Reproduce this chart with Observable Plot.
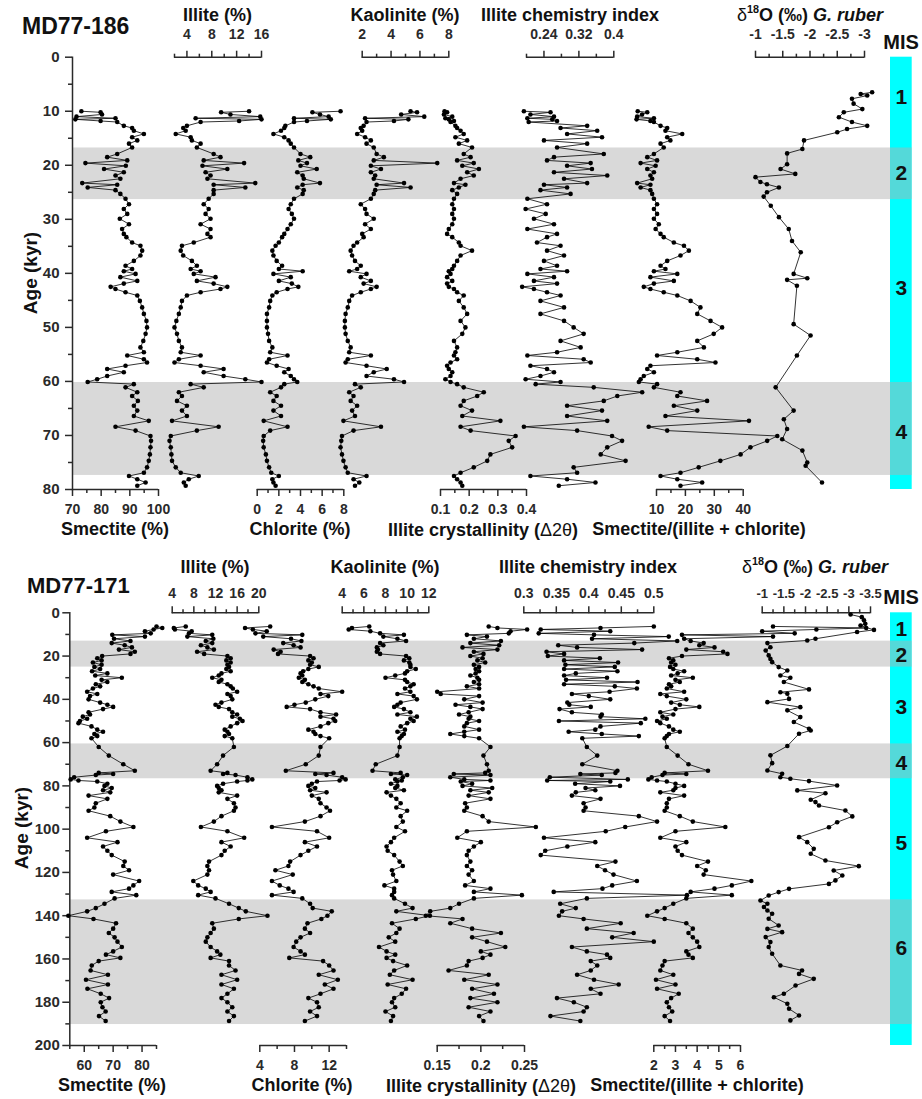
<!DOCTYPE html>
<html>
<head>
<meta charset="utf-8">
<script src="https://cdn.jsdelivr.net/npm/d3@7"></script>
<script src="https://cdn.jsdelivr.net/npm/@observablehq/plot@0.6"></script>
<style>
html, body { margin: 0; padding: 0; background: #fff; }
#fig { position: relative; width: 922px; height: 1099px; overflow: hidden; font-family: "Liberation Sans", Arial, Helvetica, sans-serif; }
.layer { position: absolute; left: 0; }
.t { position: absolute; font-weight: bold; white-space: nowrap; line-height: 1; color: #111; transform: translate(-50%, -50%); }
.t.left { transform: translate(0, -50%); }
.t.rot { transform: translate(-50%, -50%) rotate(-90deg); }
.t .n { font-weight: normal; }
.t sup { font-size: 0.6em; position: relative; top: -0.1em; vertical-align: super; line-height: 0; }
</style>
</head>
<body>
<div id="fig"></div>
<script>
// ---------------- MD77-186 (clay samples) ----------------
const ageClay186 = [
  10.0,10.2,10.6,11.0,11.3,11.5,11.8,12.0,
  12.7,13.1,13.6,14.2,14.8,15.4,16.0,16.7,
  17.9,18.5,19.1,19.6,20.1,20.7,21.3,21.9,
  22.5,23.3,23.6,24.1,24.6,25.3,26.2,27.2,
  28.1,29.0,29.9,30.9,31.8,32.7,33.3,34.3,
  34.9,35.8,36.7,37.7,38.6,39.2,39.6,40.1,
  40.7,41.4,41.9,42.5,42.9,43.5,44.1,45.1,
  46.3,47.5,48.8,50.0,51.2,52.5,53.7,54.6,
  55.2,55.9,56.5,57.1,57.7,58.3,59.0,59.6,
  60.1,60.5,61.1,62.0,62.7,63.6,64.5,65.4,
  66.4,67.3,68.4,69.1,70.1,71.0,72.2,73.5,
  74.7,75.9,76.9,77.5,78.1,78.7,79.3
];
const smectite186 = [
  73.1,79.8,80.3,71.4,85.0,71.0,79.8,85.6,
  87.9,90.8,91.4,94.9,90.8,92.6,89.7,90.8,
  85.6,82.1,89.1,74.5,88.6,81.0,87.9,85.0,
  86.7,73.4,85.6,75.3,85.0,86.7,88.5,89.7,
  87.9,89.1,86.5,89.7,87.3,87.9,88.8,90.8,
  93.7,94.3,93.7,91.4,88.5,90.8,87.9,92.0,
  86.7,92.6,87.9,83.3,85.0,88.5,92.6,93.5,
  94.3,94.9,95.8,96.0,95.5,94.7,93.7,94.9,
  89.1,94.9,96.0,88.5,82.1,87.9,82.1,78.6,
  75.3,91.4,88.5,92.6,90.8,92.8,91.4,92.6,
  91.4,96.6,85.0,92.0,97.2,97.4,97.2,97.0,
  96.6,96.0,94.9,89.7,92.6,95.5,92.6
];
const illite186 = [
  14.0,9.5,11.0,15.8,5.4,16.0,12.4,6.2,
  4.0,3.4,3.8,2.2,4.6,4.8,6.2,5.6,
  8.3,9.4,6.7,13.2,6.5,10.5,7.0,7.8,
  7.3,15.0,8.3,13.4,8.3,8.3,7.5,6.7,
  7.5,7.0,7.8,6.2,7.8,7.3,7.8,5.1,
  3.2,3.0,3.4,4.8,5.6,4.6,6.2,5.1,
  8.6,5.6,8.3,10.5,9.4,6.2,4.0,3.2,
  3.0,2.7,2.3,2.0,2.4,2.7,3.2,3.0,
  6.2,2.7,2.0,6.2,9.9,6.7,9.9,13.4,
  16.0,4.6,6.7,2.7,3.2,2.4,4.0,3.2,
  4.0,1.6,9.1,5.6,1.4,1.2,1.4,1.5,
  1.6,2.2,3.0,5.9,4.3,3.5,3.8
];
const chlorite186 = [
  7.7,5.1,5.8,6.6,3.4,6.8,4.6,3.4,
  2.6,2.5,2.2,1.5,2.5,2.9,3.1,3.4,
  4.0,4.9,3.8,4.6,4.0,5.5,3.7,4.2,
  4.3,5.8,4.2,3.7,4.3,4.2,3.4,3.1,
  2.9,3.2,3.4,3.1,2.8,2.5,2.3,2.0,
  1.7,1.4,1.5,1.8,2.3,2.0,4.2,1.5,
  3.1,2.0,3.2,3.8,2.8,1.8,1.4,1.2,
  1.1,0.9,0.9,0.9,1.0,1.1,1.4,1.2,
  2.8,1.1,0.9,1.8,2.9,2.5,3.1,3.4,
  3.7,2.5,2.2,1.2,1.8,1.5,2.2,1.5,
  2.2,0.6,2.8,1.2,0.6,0.55,0.6,0.8,
  0.9,1.1,1.3,2.0,1.4,1.5,1.7
];
const kaolinite186 = [
  5.35,5.8,4.7,6.3,2.2,5.2,4.2,2.3,
  2.1,1.9,2.0,1.65,2.2,2.6,2.3,2.8,
  3.0,3.5,2.8,7.2,2.6,3.3,2.6,2.9,
  2.8,4.9,3.0,5.35,2.9,2.8,2.6,1.9,
  2.2,2.3,2.8,2.2,2.6,2.0,2.1,1.65,
  1.4,1.2,1.3,1.5,1.9,1.65,1.1,2.3,
  1.9,2.6,2.1,3.0,2.6,1.9,1.3,1.1,
  1.0,0.85,0.8,0.8,0.85,1.0,1.2,1.1,
  2.6,1.0,0.85,2.3,3.7,2.8,2.3,4.2,
  4.9,1.5,1.9,1.1,1.4,1.2,1.65,1.3,
  1.5,0.7,3.3,1.4,0.6,0.55,0.5,0.6,
  0.7,0.85,1.0,2.3,1.4,1.8,1.5
];
const crystallinity186 = [
  0.114,0.123,0.112,0.141,0.117,0.129,0.147,0.135,
  0.152,0.158,0.170,0.181,0.152,0.193,0.164,0.210,
  0.181,0.205,0.158,0.216,0.176,0.234,0.193,0.216,
  0.170,0.147,0.187,0.164,0.141,0.158,0.147,0.141,
  0.147,0.141,0.147,0.141,0.129,0.123,0.141,0.164,
  0.170,0.210,0.170,0.158,0.147,0.141,0.129,0.135,
  0.123,0.141,0.123,0.129,0.147,0.158,0.181,0.164,
  0.181,0.193,0.170,0.187,0.176,0.147,0.158,0.152,
  0.147,0.158,0.135,0.123,0.129,0.141,0.135,0.117,
  0.135,0.158,0.181,0.251,0.228,0.181,0.170,0.210,
  0.176,0.309,0.170,0.205,0.362,0.338,0.350,0.274,
  0.263,0.216,0.170,0.147,0.158,0.170,0.176
];
const chemistry186 = [
  0.194,0.255,0.209,0.263,0.202,0.259,0.270,0.205,
  0.339,0.278,0.362,0.293,0.373,0.240,0.339,0.270,
  0.377,0.263,0.247,0.347,0.293,0.350,0.263,0.385,
  0.286,0.339,0.240,0.293,0.232,0.301,0.202,0.247,
  0.198,0.244,0.217,0.263,0.202,0.270,0.247,0.224,
  0.278,0.247,0.286,0.240,0.270,0.232,0.293,0.202,
  0.263,0.217,0.270,0.190,0.217,0.247,0.278,0.232,
  0.286,0.232,0.286,0.308,0.331,0.278,0.324,0.270,
  0.202,0.331,0.347,0.209,0.247,0.263,0.232,0.198,
  0.278,0.221,0.354,0.465,0.408,0.377,0.293,0.373,
  0.293,0.385,0.194,0.316,0.396,0.419,0.385,0.370,
  0.427,0.308,0.316,0.209,0.293,0.358,0.274
];
const ratio186 = [
  3.5,6.8,5.0,3.3,9.1,3.1,7.9,9.1,
  11.4,13.7,13.1,18.9,13.7,14.8,11.4,12.5,
  9.1,6.8,10.2,4.5,9.7,6.8,9.1,7.9,
  8.5,3.3,7.9,4.5,7.9,8.5,9.1,10.2,
  9.1,10.2,9.1,10.8,9.7,11.4,12.5,16.0,
  19.5,21.2,18.3,13.7,11.4,13.1,9.1,17.2,
  7.9,16.0,9.1,5.6,7.9,12.5,17.2,21.8,
  25.2,24.1,28.7,32.7,29.8,24.1,26.4,17.2,
  10.2,24.1,30.4,7.9,6.8,9.1,5.6,4.5,
  3.9,10.2,9.1,18.3,17.2,27.5,16.0,24.1,
  13.1,42.0,7.3,13.7,51.8,48.3,42.5,39.1,
  32.1,24.6,18.3,11.4,17.2,25.8,18.3
];
// MD77-186 oxygen isotopes
const ageO186 = [
  6.5,6.8,7.1,7.7,8.6,9.6,10.2,11.1,
  12.0,12.7,13.3,13.9,15.4,17.0,17.8,19.8,
  20.7,21.6,22.2,23.1,23.5,24.1,25.0,25.8,
  27.5,29.6,31.8,34.0,36.1,40.1,40.9,41.2,
  42.3,49.4,51.5,55.2,61.1,65.4,67.0,68.8,
  70.7,72.8,75.0,75.6,78.7
];
const d18O186 = [
  -3.14,-2.93,-3.05,-2.77,-2.80,-2.96,-2.62,-2.53,
  -2.77,-3.05,-2.68,-2.50,-1.89,-1.86,-1.58,-1.58,
  -1.46,-1.73,-1.00,-1.09,-1.21,-1.43,-1.21,-1.15,
  -1.28,-1.43,-1.61,-1.67,-1.83,-1.70,-1.95,-1.58,
  -1.76,-1.70,-2.01,-1.76,-1.37,-1.70,-1.52,-1.58,
  -1.49,-1.86,-1.95,-1.92,-2.22
];
const bands186 = [[16.8, 26.35], [60.2, 77.4]];
const mis186 = [["1", 7.4], ["2", 21.5], ["3", 42.8], ["4", 69.5]];

// ---------------- MD77-171 (clay samples) ----------------
const ageClay171 = [
  6.3,7.0,7.7,8.5,9.5,10.2,11.0,12.0,
  13.0,14.0,15.0,16.0,17.0,18.0,19.0,20.0,
  21.0,22.0,23.0,24.0,25.0,26.0,27.0,28.0,
  29.0,30.0,31.0,32.0,33.0,34.0,35.0,36.5,
  37.5,38.5,40.0,41.5,42.5,43.5,44.5,46.0,
  47.0,48.0,49.0,50.0,51.0,52.5,54.0,55.0,
  56.0,57.0,58.0,62.0,66.0,70.0,73.0,74.0,
  74.5,75.0,76.0,77.0,77.5,78.0,79.0,80.0,
  81.0,82.0,83.0,84.5,86.0,88.0,90.0,91.5,
  94.0,96.5,99.0,101.0,104.0,106.0,108.0,110.0,
  112.0,115.0,117.0,119.0,121.0,124.0,126.0,127.5,
  129.0,130.5,132.0,134.5,136.5,138.0,140.0,141.5,
  143.5,146.0,148.0,150.0,152.0,154.5,156.5,158.0,
  159.5,161.0,163.0,165.3,167.3,169.6,171.8,173.8,
  176.1,178.1,180.0,182.3,184.3,186.4,188.7
];
const smectite171 = [
  85.0,87.0,84.0,81.0,83.0,69.7,81.0,70.3,
  76.0,69.5,74.0,76.5,72.0,77.5,76.0,66.2,
  64.5,66.0,63.0,66.0,63.5,65.5,62.7,68.0,
  63.8,73.0,66.0,68.0,64.0,65.5,63.0,61.0,
  64.5,62.0,61.5,65.5,68.0,70.0,66.5,61.5,
  62.0,59.5,61.0,58.5,58.0,62.5,64.5,66.5,
  63.5,64.5,62.5,65.0,68.5,73.5,77.5,65.0,
  70.0,64.0,56.5,55.3,58.0,64.5,68.0,67.0,
  69.5,66.5,69.0,61.5,68.0,64.0,63.5,61.5,
  69.0,72.5,77.0,67.5,61.0,71.5,66.5,68.0,
  69.5,74.0,73.5,75.5,70.0,79.0,77.0,75.5,
  69.5,78.0,70.5,67.0,64.0,61.0,54.5,63.2,
  71.0,70.0,68.5,70.5,71.5,73.0,70.0,67.5,
  72.5,65.0,62.6,62.2,68.2,60.6,68.2,61.1,
  65.7,68.6,65.7,66.3,67.4,65.1,67.4
];
const illite171 = [
  6.5,4.3,4.5,7.6,7.1,11.4,6.8,11.6,
  10.2,11.4,9.3,10.5,11.7,8.6,9.9,14.2,
  14.8,14.0,14.8,14.2,14.5,14.0,14.8,13.1,
  12.6,11.4,13.1,12.6,14.2,14.8,15.2,16.0,
  14.2,14.8,15.1,13.1,12.0,12.6,14.5,15.1,
  16.0,15.1,16.5,17.0,16.0,14.8,13.7,14.2,
  14.5,13.7,15.1,15.4,13.4,12.3,11.1,14.2,
  13.4,15.7,17.9,18.8,17.9,16.0,13.4,12.3,
  12.6,13.1,12.6,16.0,14.2,15.4,15.7,15.4,
  13.1,11.7,9.3,14.2,17.3,13.1,14.8,13.7,
  13.1,10.8,10.5,10.8,10.5,7.9,8.8,10.2,
  11.1,8.8,12.0,14.5,16.3,17.6,21.6,16.3,
  11.4,11.7,11.1,10.5,10.2,11.1,12.3,12.9,
  11.1,14.5,14.5,15.7,13.1,16.0,13.1,15.4,
  14.2,13.1,14.2,15.1,14.2,15.4,14.5
];
const chlorite171 = [
  5.2,2.3,3.2,4.8,3.5,8.9,4.4,7.6,
  8.8,6.7,7.9,8.7,5.6,6.4,6.1,9.8,
  10.2,9.6,10.0,9.8,10.8,9.6,9.0,8.7,
  8.9,8.5,9.2,8.9,9.6,10.2,10.8,13.5,
  11.0,11.9,10.4,9.3,8.0,7.1,9.8,11.0,
  12.8,11.0,12.5,12.7,11.9,11.0,9.6,10.2,
  10.4,11.0,12.0,11.0,10.8,9.3,7.0,12.5,
  10.4,11.7,13.5,13.9,13.2,10.6,10.0,9.6,
  10.4,9.8,11.7,10.0,10.8,11.0,11.7,12.1,
  11.0,9.2,5.4,10.6,12.0,9.2,10.6,9.6,
  8.7,7.5,7.3,5.8,7.8,5.4,6.3,7.3,
  7.9,5.4,8.9,9.8,10.1,12.3,11.8,11.1,
  9.5,9.2,9.8,8.7,8.2,7.9,8.7,9.2,
  7.4,11.3,12.0,12.5,10.8,13.0,11.5,12.5,
  11.0,9.6,10.6,10.8,9.8,10.6,9.2
];
const kaolinite171 = [
  6.5,4.9,4.6,6.6,7.5,9.7,7.8,9.1,
  9.9,7.5,7.8,7.2,7.3,7.2,7.5,9.9,
  10.2,9.7,10.2,10.3,10.3,10.8,10.0,9.8,
  8.9,8.0,9.8,10.0,10.6,10.3,9.8,10.3,
  9.1,10.6,10.9,9.4,9.1,8.8,9.7,10.3,
  9.1,10.9,10.3,10.6,10.0,9.4,9.8,9.1,
  9.7,9.5,9.3,9.3,9.1,7.1,6.8,9.4,
  8.5,10.0,9.6,8.9,9.5,9.1,8.5,9.1,
  8.9,9.7,8.1,8.5,9.0,9.4,9.0,10.0,
  9.4,9.6,9.0,9.8,8.8,8.5,8.1,8.2,
  8.8,9.3,9.6,8.6,8.7,9.0,7.9,8.8,
  8.8,8.6,8.8,9.8,10.5,9.0,12.1,10.8,
  8.6,9.3,9.0,8.3,8.9,7.4,8.1,8.9,
  8.1,8.7,10.0,8.8,8.4,10.5,8.2,9.9,
  9.5,8.8,8.6,8.9,8.0,8.7,8.5
];
const crystallinity171 = [
  0.209,0.219,0.253,0.234,0.232,0.184,0.207,0.192,
  0.223,0.188,0.221,0.179,0.219,0.192,0.203,0.188,
  0.202,0.196,0.205,0.192,0.198,0.194,0.198,0.194,
  0.188,0.196,0.198,0.192,0.198,0.184,0.198,0.150,
  0.154,0.198,0.181,0.202,0.171,0.188,0.202,0.186,
  0.175,0.188,0.186,0.198,0.184,0.181,0.198,0.181,
  0.165,0.181,0.198,0.211,0.203,0.207,0.209,0.205,
  0.169,0.211,0.165,0.181,0.211,0.177,0.190,0.179,
  0.213,0.188,0.209,0.186,0.211,0.182,0.184,0.181,
  0.202,0.209,0.263,0.184,0.173,0.200,0.192,0.186,
  0.184,0.188,0.184,0.190,0.186,0.192,0.182,0.211,
  0.192,0.247,0.192,0.175,0.165,0.142,0.137,0.179,
  0.165,0.190,0.223,0.190,0.207,0.228,0.200,0.211,
  0.202,0.186,0.184,0.163,0.209,0.181,0.219,0.190,
  0.215,0.188,0.219,0.186,0.211,0.198,0.203
];
const chemistry171 = [
  0.500,0.418,0.326,0.433,0.323,0.408,0.523,0.405,
  0.536,0.470,0.353,0.382,0.482,0.335,0.362,0.337,
  0.417,0.362,0.445,0.364,0.440,0.362,0.444,0.380,
  0.362,0.428,0.365,0.475,0.362,0.440,0.474,0.432,
  0.374,0.400,0.433,0.367,0.370,0.403,0.355,0.374,
  0.420,0.418,0.487,0.354,0.480,0.418,0.410,0.369,
  0.420,0.477,0.390,0.397,0.413,0.390,0.444,0.441,
  0.387,0.420,0.340,0.460,0.336,0.433,0.379,0.448,
  0.395,0.410,0.380,0.374,0.418,0.392,0.395,0.392,
  0.477,0.505,0.456,0.426,0.331,0.410,0.367,0.333,
  0.326,0.441,0.413,0.425,0.438,0.474,0.436,0.421,
  0.346,0.551,0.397,0.356,0.380,0.359,0.354,0.392,
  0.449,0.397,0.469,0.436,0.500,0.374,0.397,0.428,
  0.433,0.403,0.413,0.403,0.382,0.408,0.446,0.403,
  0.418,0.351,0.377,0.397,0.392,0.341,0.387
];
const ratio171 = [
  7.5,11.8,9.5,7.0,8.5,3.3,7.5,3.4,
  3.7,4.3,4.1,4.8,3.5,5.2,5.4,3.3,
  2.7,2.9,2.8,3.0,2.75,2.9,3.4,3.1,
  2.8,3.8,3.0,3.2,2.7,2.8,2.6,3.4,
  2.3,2.6,3.5,2.8,3.2,4.1,3.0,2.3,
  2.9,2.4,2.6,2.15,2.3,2.7,2.9,3.2,
  2.7,2.6,2.5,2.6,3.1,3.6,4.5,2.5,
  3.5,2.4,1.9,1.75,2.15,2.6,3.0,3.4,
  3.0,2.9,2.3,3.4,2.7,2.6,2.6,2.5,
  3.2,3.8,5.3,3.0,2.3,3.5,3.0,3.1,
  3.3,4.5,4.0,4.4,4.3,6.5,5.6,4.8,
  3.7,5.6,3.5,2.9,2.5,2.15,1.7,2.5,
  3.5,3.8,3.6,3.8,4.0,4.1,3.5,3.6,
  3.8,2.5,2.4,2.3,2.9,2.1,3.0,2.15,
  3.15,2.8,2.6,2.7,2.85,2.5,2.75
];
// MD77-171 oxygen isotopes
const ageO171 = [
  0.8,2.0,3.5,5.1,5.9,7.9,8.9,12.0,
  12.8,14.0,15.9,17.4,19.7,21.3,22.8,25.1,
  26.7,29.0,30.0,32.0,35.4,36.7,37.4,39.8,
  41.3,43.6,45.1,48.2,50.5,53.6,54.4,55.9,
  61.6,65.9,69.5,72.9,74.4,76.0,76.7,77.8,
  79.8,82.1,83.4,86.4,87.5,89.1,91.4,94.1,
  96.8,99.1,103.7,106.0,109.1,111.4,114.5,117.1,
  119.1,121.4,123.7,125.3,127.6,129.1,130.7,133.0,
  134.5,136.0,137.6,139.1,141.4,144.5,146.1,147.6,
  149.9,152.2,154.5,157.6,163.0,165.3,166.9,169.2,
  172.3,176.1,177.7,180.7,183.0,186.1,188.4
];
const d18O171 = [
  -3.04,-3.30,-3.35,-3.38,-3.27,-3.58,-3.19,-2.23,
  -2.04,-1.12,-1.19,-1.08,-1.15,-1.19,-1.23,-1.38,
  -1.58,-1.42,-1.65,-1.50,-2.08,-1.42,-1.58,-1.62,
  -1.12,-1.88,-1.58,-1.88,-1.73,-2.08,-2.12,-1.85,
  -1.58,-1.19,-1.23,-1.12,-1.46,-1.42,-1.65,-2.08,
  -2.73,-1.81,-2.46,-2.12,-2.23,-2.31,-2.92,-3.08,
  -2.73,-2.54,-1.85,-2.04,-2.19,-2.12,-2.46,-3.23,
  -2.65,-2.85,-2.69,-2.54,-1.62,-1.38,-1.15,-0.96,
  -1.12,-1.04,-1.12,-1.23,-1.15,-1.38,-1.12,-1.46,
  -1.08,-1.19,-1.15,-1.23,-1.42,-1.92,-1.85,-2.19,
  -1.77,-1.50,-1.27,-1.58,-1.62,-1.85,-1.65
];
const bands171 = [[13.1, 25.1], [60.6, 76.7], [132.7, 190.3]];
const mis171 = [["1", 7.7], ["2", 19.7], ["3", 43.7], ["4", 69.7], ["5", 106.5], ["6", 155]];

// tick values
const yTicks186 = [0, 10, 20, 30, 40, 50, 60, 70, 80];
const yMinor186 = [5, 15, 25, 35, 45, 55, 65, 75];
const yTicks171 = [0, 20, 40, 60, 80, 100, 120, 140, 160, 180, 200];
const yMinor171 = [10, 30, 50, 70, 90, 110, 130, 150, 170, 190];

// ---------------- layout ----------------
const W = 922;
const FONT = "'Liberation Sans', Arial, Helvetica, sans-serif";
const AX = "#2a2a2a";
const panels = [
  {
    top: 0, height: 545, frameTop: 56.7, frameBottom: 489, axisLeft: 72, ageMax: 80, yPad: 6, topPad: 11,
    yTicks: yTicks186, yMinor: yMinor186, bands: bands186, mis: mis186,
    tracks: [
      {age: ageClay186, values: smectite186, domain: [70, 100], range: [72, 158], anchor: "bottom", major: [70, 80, 90, 100], minor: [75, 85, 95]},
      {age: ageClay186, values: illite186, domain: [2, 16], range: [174, 261], anchor: "top", major: [4, 8, 12, 16], minor: [2, 6, 10, 14]},
      {age: ageClay186, values: chlorite186, domain: [0, 8], range: [256.7, 343.3], anchor: "bottom", major: [0, 2, 4, 6, 8], minor: [1, 3, 5, 7]},
      {age: ageClay186, values: kaolinite186, domain: [2, 8], range: [361.7, 448.3], anchor: "top", major: [2, 4, 6, 8], minor: [3, 5, 7]},
      {age: ageClay186, values: crystallinity186, domain: [0.1, 0.4], range: [440, 526], anchor: "bottom", major: [0.1, 0.2, 0.3, 0.4], minor: [0.15, 0.25, 0.35]},
      {age: ageClay186, values: chemistry186, domain: [0.2, 0.4], range: [526, 613.3], anchor: "top", major: [0.24, 0.32, 0.4], minor: [0.2, 0.28, 0.36]},
      {age: ageClay186, values: ratio186, domain: [10, 40], range: [656, 742.7], anchor: "bottom", major: [10, 20, 30, 40], minor: [15, 25, 35]},
      {age: ageO186, values: d18O186, domain: [-1, -3], range: [755, 864], anchor: "top", major: [-1, -1.5, -2, -2.5, -3], minor: [-1.25, -1.75, -2.25, -2.75]}
    ]
  },
  {
    top: 545, height: 554, frameTop: 67.3, frameBottom: 500, axisLeft: 69.3, ageMax: 200, yPad: 3, topPad: 8,
    yTicks: yTicks171, yMinor: yMinor171, bands: bands171, mis: mis171,
    tracks: [
      {age: ageClay171, values: smectite171, domain: [55, 85], range: [69.3, 156], anchor: "bottom", major: [60, 70, 80], minor: [55, 65, 75, 85]},
      {age: ageClay171, values: illite171, domain: [4, 20], range: [171.7, 258.3], anchor: "top", major: [4, 8, 12, 16, 20], minor: [6, 10, 14, 18]},
      {age: ageClay171, values: chlorite171, domain: [4, 14], range: [259.3, 346], anchor: "bottom", major: [4, 8, 12], minor: [6, 10, 14]},
      {age: ageClay171, values: kaolinite171, domain: [4, 12], range: [341.7, 428.3], anchor: "top", major: [4, 6, 8, 10, 12], minor: [5, 7, 9, 11]},
      {age: ageClay171, values: crystallinity171, domain: [0.15, 0.25], range: [436.7, 524], anchor: "bottom", major: [0.15, 0.2, 0.25], minor: [0.175, 0.225]},
      {age: ageClay171, values: chemistry171, domain: [0.3, 0.5], range: [523.3, 653.3], anchor: "top", major: [0.3, 0.35, 0.4, 0.45, 0.5], minor: [0.325, 0.375, 0.425, 0.475]},
      {age: ageClay171, values: ratio171, domain: [2, 6], range: [653.3, 740], anchor: "bottom", major: [2, 3, 4, 5, 6], minor: [2.5, 3.5, 4.5, 5.5]},
      {age: ageO171, values: d18O171, domain: [-1, -3.5], range: [761.7, 870], anchor: "top", major: [-1, -1.5, -2, -2.5, -3, -3.5], minor: [-1.25, -1.75, -2.25, -2.75, -3.25], small: true}
    ]
  }
];

const fig = document.getElementById("fig");
function addLayer(svg, top) {
  const d = document.createElement("div");
  d.className = "layer";
  d.style.top = top + "px";
  d.appendChild(svg);
  fig.appendChild(d);
}
function base(p) {
  return {
    width: W, height: p.height,
    marginTop: p.frameTop, marginBottom: p.height - p.frameBottom,
    style: {background: "transparent", overflow: "visible", fontFamily: FONT, fontSize: "14px", fontWeight: "bold", color: AX},
    y: {domain: [0, p.ageMax], reverse: true, axis: null}
  };
}
const fmt = (d) => String(d);

for (const p of panels) {
  // MIS column
  addLayer(Plot.plot({
    ...base(p), marginLeft: 890, marginRight: W - 911.7,
    marks: [Plot.rect([[0, p.ageMax]], {y1: (d) => d[0], y2: (d) => d[1], fill: "#00ffff"})]
  }), p.top);
  // glacial bands + age axis
  addLayer(Plot.plot({
    ...base(p), marginLeft: p.axisLeft, marginRight: W - 911.7,
    style: {...base(p).style, fontSize: "15px"},
    marks: [
      Plot.rect(p.bands, {y1: (d) => d[0], y2: (d) => d[1], fill: "#b0b0b0", fillOpacity: 0.48}),
      Plot.frame({anchor: "left", stroke: AX, strokeWidth: 1.5}),
      Plot.axisY({anchor: "left", ticks: p.yTicks, tickSize: 7, tickPadding: p.yPad, tickFormat: fmt, label: null, stroke: AX, strokeWidth: 1.5}),
      Plot.axisY({anchor: "left", ticks: p.yMinor, tickSize: 4, tickFormat: () => "", label: null, stroke: AX, strokeWidth: 1.5})
    ]
  }), p.top);
  // proxy tracks
  for (const t of p.tracks) {
    if (t.age.length !== t.values.length) console.error("length mismatch", t);
    const data = t.age.map((a, i) => ({age: a, v: t.values[i]}));
    const edge = t.anchor === "top" ? 0 : p.ageMax;
    const pad = t.anchor === "top" ? p.topPad : 8;
    addLayer(Plot.plot({
      ...base(p), marginLeft: 0, marginRight: 0,
      style: {...base(p).style, fontSize: t.small ? "13px" : "14px"},
      x: {domain: t.domain, range: t.range},
      marks: [
        Plot.ruleY([{y: edge, x1: t.domain[0], x2: t.domain[1]}], {y: "y", x1: "x1", x2: "x2", stroke: AX, strokeWidth: 1.5}),
        Plot.axisX({anchor: t.anchor, ticks: t.major, tickSize: 7, tickPadding: pad, tickFormat: fmt, label: null, stroke: AX, strokeWidth: 1.5}),
        Plot.axisX({anchor: t.anchor, ticks: t.minor, tickSize: 4, tickFormat: () => "", label: null, stroke: AX, strokeWidth: 1.5}),
        Plot.line(data, {x: "v", y: "age", stroke: "#000", strokeWidth: 0.8}),
        Plot.dot(data, {x: "v", y: "age", r: 2.3, fill: "#000"})
      ]
    }), p.top);
  }
  // MIS stage numbers
  addLayer(Plot.plot({
    ...base(p), marginLeft: 890, marginRight: W - 911.7,
    marks: [Plot.text(p.mis, {y: (d) => d[1], text: (d) => d[0], frameAnchor: "middle", fontSize: 21, fontWeight: "bold", fill: "#111"})]
  }), p.top);
}

// ---------------- titles ----------------
const d18 = '<span class="n">δ</span><sup>18</sup>O (‰) <i>G. ruber</i>';
const cryst = 'Illite crystallinity (<span class="n">Δ2θ</span>)';
const titles = [
  ["MD77-186", 22, 26, 23, "left"],
  ["Illite (%)", 217.5, 15, 18],
  ["Kaolinite (%)", 405, 15, 18],
  ["Illite chemistry index", 570, 15, 18],
  [d18, 810, 15, 18],
  ["MIS", 901, 42, 20],
  ["Smectite (%)", 115, 529, 18],
  ["Chlorite (%)", 300, 529, 18],
  [cryst, 483, 530, 18],
  ["Smectite/(illite + chlorite)", 699, 529, 18],
  ["Age (kyr)", 30, 273, 19, "rot"],
  ["MD77-171", 27, 586, 22, "left"],
  ["Illite (%)", 215, 567, 18],
  ["Kaolinite (%)", 385, 567, 18],
  ["Illite chemistry index", 588, 567, 18],
  [d18, 815, 567, 18],
  ["MIS", 901, 597, 20],
  ["Smectite (%)", 112, 1085, 18],
  ["Chlorite (%)", 302, 1085, 18],
  [cryst, 481, 1086, 18],
  ["Smectite/(illite + chlorite)", 697, 1085, 18],
  ["Age (kyr)", 21, 828, 19, "rot"]
];
for (const [html, x, y, size, cls] of titles) {
  const d = document.createElement("div");
  d.className = "t" + (cls ? " " + cls : "");
  d.style.left = x + "px";
  d.style.top = y + "px";
  d.style.fontSize = size + "px";
  d.innerHTML = html;
  fig.appendChild(d);
}
</script>
</body>
</html>
